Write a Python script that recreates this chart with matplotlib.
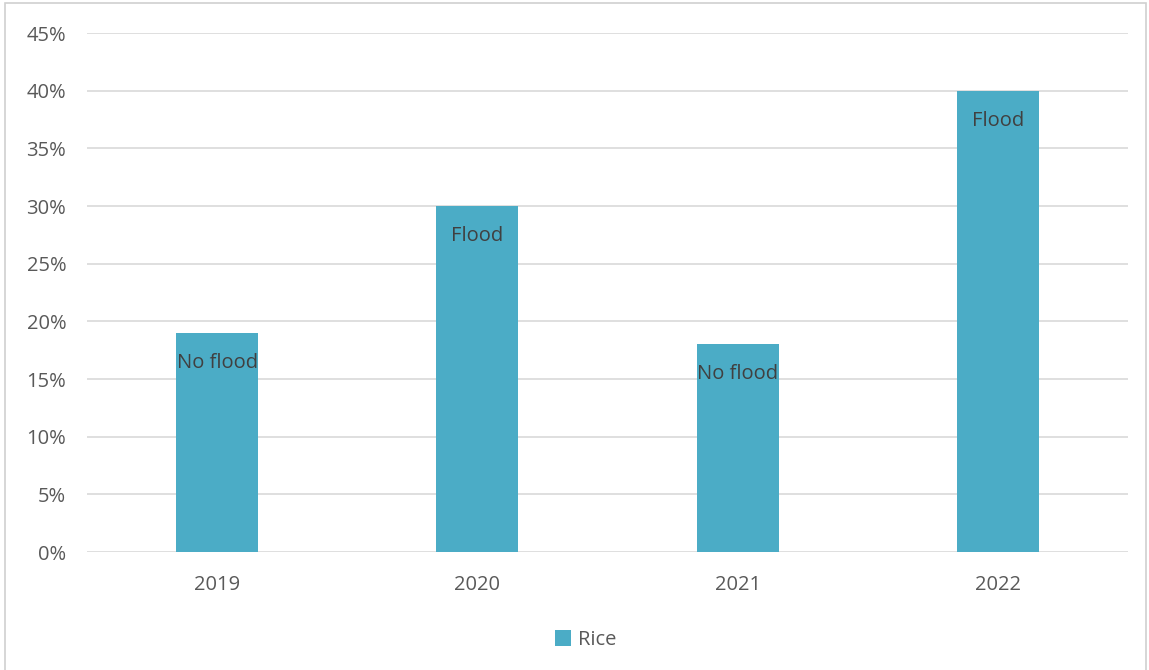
import matplotlib.pyplot as plt
from matplotlib.patches import Rectangle
from matplotlib.ticker import PercentFormatter

# --- Data ---
years = ["2019", "2020", "2021", "2022"]
rice = [0.19, 0.30, 0.18, 0.40]
flood_labels = ["No flood", "Flood", "No flood", "Flood"]

plt.rcParams['font.family'] = ['Open Sans', 'DejaVu Sans']

fig = plt.figure(figsize=(11.49, 6.70), dpi=100)
ax = fig.add_axes([0.0757, 0.1761, 0.906, 0.7746])

# frame around the whole chart
fig.patches.append(Rectangle((0.0045, -0.01), 0.993, 1.005, transform=fig.transFigure,
                             fill=False, edgecolor='#D0D0D0', linewidth=1.2))

bars = ax.bar(range(len(years)), rice, width=0.315, color='#4BACC6', label='Rice', zorder=3)

for bar, lab in zip(bars, flood_labels):
    ax.annotate(lab, (bar.get_x() + bar.get_width() / 2, bar.get_height()),
                xytext=(0, -21.5), textcoords='offset points',
                ha='center', va='center', fontsize=14.5, color='#404040', zorder=4)

ax.set_xlim(-0.5, 3.5)
ax.set_ylim(0, 0.45)
ax.set_yticks([i * 0.05 for i in range(10)])
ax.yaxis.set_major_formatter(PercentFormatter(1.0, decimals=0))
ax.set_xticks(range(len(years)))
ax.set_xticklabels(years)

ax.grid(axis='y', color='#D9D9D9', linewidth=1.2, zorder=0)
for s in ax.spines.values():
    s.set_visible(False)
ax.tick_params(axis='both', length=0, labelsize=14.5, colors='#595959')
ax.tick_params(axis='y', pad=15)
ax.tick_params(axis='x', pad=16.5)

ax.legend(loc='upper center', bbox_to_anchor=(0.479, -0.115), frameon=False,
          fontsize=14.5, labelcolor='#595959', handlelength=0.8, handleheight=0.8,
          handletextpad=0.3)

plt.savefig("out.png", dpi=100)
plt.close()
